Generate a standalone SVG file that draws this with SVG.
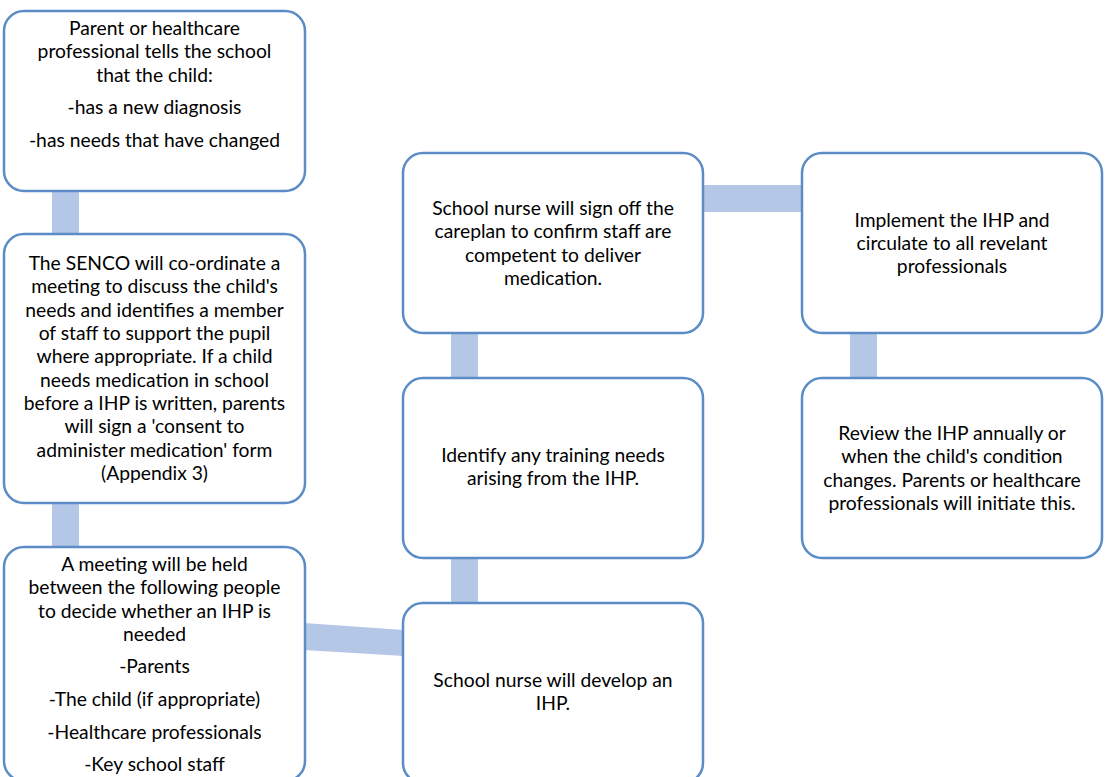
<svg xmlns="http://www.w3.org/2000/svg" width="1105" height="777" viewBox="0 0 1105 777">
<style>
.box{fill:#ffffff;stroke:#5B8CC6;stroke-width:2.5}
.conn{fill:#B4C7E7;stroke:none}
text{font-family:Lato,"Liberation Sans",sans-serif;font-size:19.3px;fill:#000000;text-anchor:middle}
</style>
<rect width="1105" height="777" fill="#ffffff"/>
<g id="connectors">
<rect class="conn" x="52" y="190" width="27" height="45"/>
<rect class="conn" x="52" y="502" width="27" height="46"/>
<polygon class="conn" points="304,623 404,630 404,656 304,650"/>
<rect class="conn" x="451" y="332" width="27" height="47"/>
<rect class="conn" x="451" y="557" width="27" height="47"/>
<rect class="conn" x="702" y="185" width="101" height="27"/>
<rect class="conn" x="850" y="332" width="27" height="47"/>
</g>
<g id="node1">
<rect class="box" x="4" y="11" width="301" height="180" rx="20"/>
<text x="154.5" y="35">Parent or healthcare</text>
<text x="154.5" y="58.3">professional tells the school</text>
<text x="154.5" y="81.7">that the child:</text>
<text x="154.5" y="113.5">-has a new diagnosis</text>
<text x="154.5" y="147">-has needs that have changed</text>
</g>
<g id="node2">
<rect class="box" x="4" y="234" width="301" height="269" rx="20"/>
<text x="154.5" y="270">The SENCO will co-ordinate a</text>
<text x="154.5" y="293.3">meeting to discuss the child's</text>
<text x="154.5" y="316.7">needs and identifies a member</text>
<text x="154.5" y="340">of staff to support the pupil</text>
<text x="154.5" y="363.3">where appropriate. If a child</text>
<text x="154.5" y="386.7">needs medication in school</text>
<text x="154.5" y="410">before a IHP is written, parents</text>
<text x="154.5" y="433.3">will sign a 'consent to</text>
<text x="154.5" y="456.7">administer medication' form</text>
<text x="154.5" y="480">(Appendix 3)</text>
</g>
<g id="node3">
<rect class="box" x="4" y="547" width="301" height="234" rx="20"/>
<text x="154.5" y="571">A meeting will be held</text>
<text x="154.5" y="594.3">between the following people</text>
<text x="154.5" y="617.7">to decide whether an IHP is</text>
<text x="154.5" y="641">needed</text>
<text x="154.5" y="673">-Parents</text>
<text x="154.5" y="706">-The child (if appropriate)</text>
<text x="154.5" y="738.5">-Healthcare professionals</text>
<text x="154.5" y="771">-Key school staff</text>
</g>
<g id="node4">
<rect class="box" x="403" y="603" width="300" height="180" rx="20"/>
<text x="553" y="686.7">School nurse will develop an</text>
<text x="553" y="709.5">IHP.</text>
</g>
<g id="node5">
<rect class="box" x="403" y="378" width="300" height="180" rx="20"/>
<text x="553" y="461.7">Identify any training needs</text>
<text x="553" y="485">arising from the IHP.</text>
</g>
<g id="node6">
<rect class="box" x="403" y="153" width="300" height="180" rx="20"/>
<text x="553" y="215">School nurse will sign off the</text>
<text x="553" y="238.3">careplan to confirm staff are</text>
<text x="553" y="261.7">competent to deliver</text>
<text x="553" y="285">medication.</text>
</g>
<g id="node7">
<rect class="box" x="802" y="153" width="300" height="180" rx="20"/>
<text x="952" y="226.7">Implement the IHP and</text>
<text x="952" y="250">circulate to all revelant</text>
<text x="952" y="273.3">professionals</text>
</g>
<g id="node8">
<rect class="box" x="802" y="378" width="300" height="180" rx="20"/>
<text x="952" y="440">Review the IHP annually or</text>
<text x="952" y="463.3">when the child's condition</text>
<text x="952" y="486.7">changes. Parents or healthcare</text>
<text x="952" y="510">professionals will initiate this.</text>
</g>
</svg>
